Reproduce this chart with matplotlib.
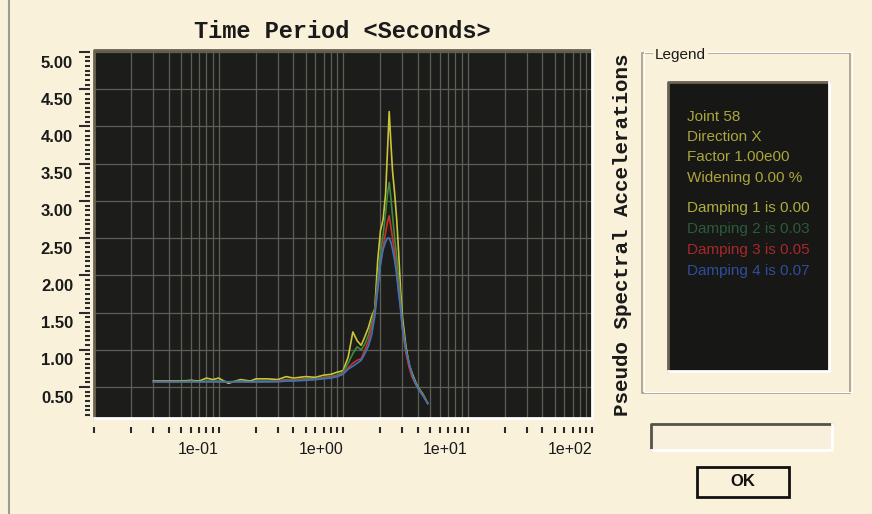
import matplotlib
matplotlib.use('Agg')
import matplotlib.pyplot as plt
import matplotlib.transforms as mtransforms
from matplotlib.ticker import LogLocator, MultipleLocator, NullFormatter
from matplotlib.patches import Rectangle
from matplotlib.lines import Line2D

# ---------------- data ----------------
periods = [0.03, 0.04, 0.05, 0.06, 0.07, 0.08, 0.09, 0.10, 0.12, 0.15,
           0.18, 0.20, 0.25, 0.30, 0.35, 0.40, 0.50, 0.60, 0.70, 0.80,
           0.90, 1.00, 1.10, 1.20, 1.30, 1.40, 1.50, 1.60, 1.70, 1.80,
           1.90, 2.00, 2.10, 2.20, 2.28, 2.35, 2.42, 2.50, 2.60, 2.70,
           2.80, 2.90, 3.00, 3.20, 3.40, 3.60, 3.80, 4.00, 4.40, 4.80]

damping_1 = [0.58, 0.58, 0.58, 0.59, 0.58, 0.62, 0.60, 0.62, 0.55, 0.60,
             0.58, 0.61, 0.61, 0.60, 0.64, 0.62, 0.64, 0.63, 0.66, 0.67,
             0.70, 0.72, 0.90, 1.24, 1.12, 1.06, 1.18, 1.30, 1.45, 1.55,
             2.20, 2.60, 2.75, 3.10, 3.70, 4.20, 3.80, 3.40, 3.10, 2.75,
             2.30, 1.80, 1.45, 1.05, 0.80, 0.68, 0.58, 0.50, 0.40, 0.28]

damping_2 = [0.57, 0.57, 0.57, 0.58, 0.57, 0.58, 0.58, 0.58, 0.57, 0.58,
             0.57, 0.58, 0.58, 0.58, 0.60, 0.60, 0.61, 0.61, 0.63, 0.64,
             0.66, 0.70, 0.82, 0.95, 1.04, 1.00, 1.08, 1.20, 1.38, 1.55,
             1.95, 2.30, 2.55, 2.85, 3.10, 3.25, 3.05, 2.80, 2.50, 2.25,
             1.95, 1.65, 1.35, 1.00, 0.78, 0.64, 0.56, 0.49, 0.39, 0.28]

damping_3 = [0.57, 0.57, 0.57, 0.57, 0.57, 0.57, 0.57, 0.57, 0.57, 0.57,
             0.57, 0.57, 0.57, 0.58, 0.59, 0.59, 0.60, 0.60, 0.62, 0.63,
             0.65, 0.68, 0.76, 0.82, 0.86, 0.88, 1.00, 1.12, 1.30, 1.50,
             1.85, 2.15, 2.38, 2.58, 2.72, 2.80, 2.66, 2.50, 2.30, 2.05,
             1.80, 1.55, 1.28, 0.96, 0.76, 0.63, 0.55, 0.48, 0.38, 0.28]

damping_4 = [0.57, 0.57, 0.57, 0.57, 0.57, 0.57, 0.57, 0.57, 0.57, 0.57,
             0.57, 0.57, 0.57, 0.57, 0.58, 0.58, 0.59, 0.60, 0.61, 0.62,
             0.64, 0.67, 0.74, 0.78, 0.82, 0.86, 0.95, 1.05, 1.20, 1.45,
             1.80, 2.15, 2.35, 2.45, 2.50, 2.50, 2.45, 2.35, 2.20, 2.00,
             1.75, 1.55, 1.30, 1.00, 0.82, 0.66, 0.56, 0.48, 0.38, 0.28]

series = [damping_1, damping_2, damping_3, damping_4]
series_colors = ['#c9c43a', '#3f8a3c', '#c8342a', '#3a74bc']

x_label_vals = [0.1, 1.0, 10.0, 100.0]
x_labels = ['1e-01', '1e+00', '1e+01', '1e+02']
y_label_vals = [0.5, 1.0, 1.5, 2.0, 2.5, 3.0, 3.5, 4.0, 4.5, 5.0]
y_labels = ['0.50', '1.00', '1.50', '2.00', '2.50', '3.00', '3.50', '4.00', '4.50', '5.00']

title = 'Time Period <Seconds>'
ylabel = 'Pseudo Spectral Accelerations'
legend_info = ['Joint 58', 'Direction X', 'Factor 1.00e00', 'Widening 0.00 %']
legend_damping = ['Damping 1 is 0.00', 'Damping 2 is 0.03',
                  'Damping 3 is 0.05', 'Damping 4 is 0.07']
legend_info_color = '#aaa63c'
legend_damping_colors = ['#aeae3e', '#2c5a3a', '#a8282a', '#2e4e9c']

# ---------------- figure ----------------
W, H = 872, 514
BG = '#f9f1da'
fig = plt.figure(figsize=(W / 100, H / 100), dpi=100, facecolor=BG)


def fx(px):
    return px / W


def fy(py):
    return 1 - py / H


ax_l, ax_r, ax_t, ax_b = 94, 592, 50, 418
ax = fig.add_axes([fx(ax_l), fy(ax_b), (ax_r - ax_l) / W, (ax_b - ax_t) / H])
ax.set_facecolor('#1c1c1a')
ax.set_xscale('log')
ax.set_xlim(0.01, 100)
ax.set_ylim(0.084, 5.027)

for s, c in zip(series, series_colors):
    ax.plot(periods, s, color=c, lw=1.2, zorder=3)

# ticks
ax.xaxis.set_major_locator(LogLocator(base=10))
ax.xaxis.set_minor_locator(LogLocator(base=10, subs=[2, 3, 4, 5, 6, 7, 8, 9]))
ax.xaxis.set_major_formatter(NullFormatter())
ax.xaxis.set_minor_formatter(NullFormatter())
ax.yaxis.set_major_locator(MultipleLocator(0.5))
ax.yaxis.set_minor_locator(MultipleLocator(0.0625))
ax.yaxis.set_major_formatter(NullFormatter())

ax.spines['bottom'].set_position(('outward', 6.5))
ax.spines['left'].set_position(('outward', 3.0))
for sp in ax.spines.values():
    sp.set_color('none')

ax.tick_params(axis='x', which='both', direction='out', length=4.3, width=1.5,
               color='#2a2a2a', top=False)
ax.tick_params(axis='y', which='major', direction='out', length=8, width=1.5,
               color='#2a2a2a', right=False)
ax.tick_params(axis='y', which='minor', direction='out', length=3.6, width=1.5,
               color='#2a2a2a', right=False)

ax.grid(which='both', axis='x', color='#5e5e58', lw=0.9)
ax.grid(which='major', axis='y', color='#5e5e58', lw=0.9)
ax.set_axisbelow(True)

# sunken border of plot area
ax.plot([0, 0, 1], [0, 1, 1], transform=ax.transAxes, color='#6a6252', lw=2,
        clip_on=False, zorder=5)
ax.plot([0, 1, 1], [0, 0, 1], transform=ax.transAxes, color='#ffffff', lw=2,
        clip_on=False, zorder=5)

# tick labels
xtrans = mtransforms.blended_transform_factory(ax.transData, ax.transAxes)
for v, lab in zip(x_label_vals, x_labels):
    ax.text(v, -(450 - ax_b) / (ax_b - ax_t), lab, transform=xtrans,
            ha='right', va='center', fontsize=11.5, family='Liberation Sans',
            color='#1a1a1a')

ytrans = mtransforms.blended_transform_factory(ax.transAxes, ax.transData) + \
    mtransforms.ScaledTranslation(0, -0.11, fig.dpi_scale_trans)
for v, lab in zip(y_label_vals, y_labels):
    ax.text(-(ax_l - 73) / (ax_r - ax_l), v, lab, transform=ytrans,
            ha='right', va='center', fontsize=12, family='Liberation Sans',
            weight='bold', color='#1a1a1a')

# titles
fig.text(fx(342), fy(31), title, family='Liberation Mono', weight='bold',
         fontsize=17, ha='center', va='center', color='#1a1a1a')
fig.text(fx(622), fy(235), ylabel, family='Liberation Mono', weight='bold',
         fontsize=15, rotation=90, ha='center', va='center', color='#1a1a1a')

# window left border
fig.add_artist(Line2D([fx(8.5), fx(8.5)], [0, 1], transform=fig.transFigure,
                      color='#9c9a94', lw=1.5))

# legend group box
fig.add_artist(Rectangle((fx(642), fy(393)), (850 - 642) / W, (393 - 53) / H,
                         transform=fig.transFigure, fill=False,
                         ec='#a49e90', lw=1.2))
fig.add_artist(Rectangle((fx(643.5), fy(391.5)), (850 - 642) / W, (393 - 53) / H,
                         transform=fig.transFigure, fill=False,
                         ec='#ffffff', lw=0.8))
fig.text(fx(655), fy(55), 'Legend', fontsize=11, family='Liberation Sans',
         ha='left', va='center', color='#1a1a1a',
         bbox=dict(boxstyle='square,pad=0.1', fc=BG, ec='none'))

# legend dark panel
fig.add_artist(Rectangle((fx(668), fy(371)), (829 - 668) / W, (371 - 82) / H,
                         transform=fig.transFigure, fc='#171716', ec='none'))
fig.add_artist(Line2D([fx(668), fx(668), fx(829)], [fy(371), fy(82), fy(82)],
                      transform=fig.transFigure, color='#6a6252', lw=2))
fig.add_artist(Line2D([fx(668), fx(829), fx(829)], [fy(371), fy(371), fy(82)],
                      transform=fig.transFigure, color='#ffffff', lw=2))

info_y = [117, 137, 157, 178]
for yy, t in zip(info_y, legend_info):
    fig.text(fx(687), fy(yy), t, fontsize=11, family='Liberation Sans',
             ha='left', va='center', color=legend_info_color)
damp_y = [208, 229, 250, 271]
for yy, t, c in zip(damp_y, legend_damping, legend_damping_colors):
    fig.text(fx(687), fy(yy), t, fontsize=11, family='Liberation Sans',
             ha='left', va='center', color=c)

# empty text box
fig.add_artist(Rectangle((fx(650), fy(450)), (832 - 650) / W, (450 - 423) / H,
                         transform=fig.transFigure, fc='#f8f0dc', ec='none'))
fig.add_artist(Line2D([fx(651), fx(651), fx(832)], [fy(450), fy(424), fy(424)],
                      transform=fig.transFigure, color='#55524a', lw=2))
fig.add_artist(Line2D([fx(651), fx(832), fx(832)], [fy(450), fy(450), fy(424)],
                      transform=fig.transFigure, color='#ffffff', lw=2))

# OK button
fig.add_artist(Rectangle((fx(697), fy(497)), (789 - 697) / W, (497 - 467) / H,
                         transform=fig.transFigure, fc=BG, ec='#111111', lw=2))
fig.text(fx(743), fy(482), 'OK', fontsize=12, family='Liberation Sans',
         weight='bold', ha='center', va='center', color='#111111')

fig.savefig('out.png', dpi=100, facecolor=BG)
